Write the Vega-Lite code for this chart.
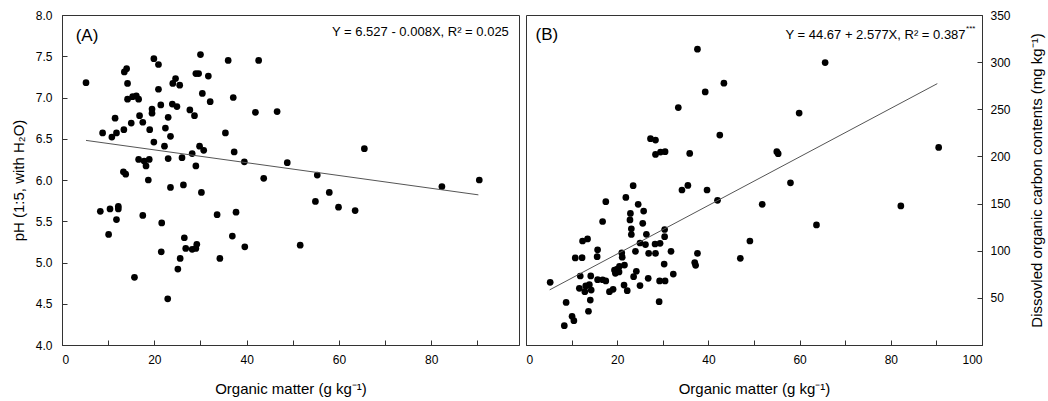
{
  "$schema": "https://vega.github.io/schema/vega-lite/v6.json",
  "padding": {"left": 10, "top": 8, "right": 2, "bottom": 2},
  "bounds": "flush",
  "spacing": 7,
  "config": {
    "font": "Liberation Sans",
    "view": {"stroke": "#333", "strokeWidth": 1},
    "axis": {"grid": false, "domainColor": "#333", "tickColor": "#333", "tickSize": -5, "labelFontSize": 12, "labelColor": "#000", "labelFont": "Liberation Sans", "titleFont": "Liberation Sans", "titleFontSize": 15, "titleFontWeight": "normal", "titleColor": "#000"},
    "axisX": {"labelPadding": 14, "titlePadding": 16},
    "axisY": {"labelPadding": 15, "titlePadding": 9}
  },
  "datasets": {
    "ph": [
      {"om":5.2,"ph":7.18},{"om":13.5,"ph":7.31},{"om":14.0,"ph":7.35},{"om":14.2,"ph":7.17},{"om":19.9,"ph":7.47},{"om":20.9,"ph":7.40},{"om":30.0,"ph":7.52},{"om":36.0,"ph":7.45},{"om":42.6,"ph":7.45},{"om":24.6,"ph":7.23},{"om":24.0,"ph":7.17},{"om":25.5,"ph":7.15},{"om":29.0,"ph":7.29},{"om":29.6,"ph":7.29},{"om":31.7,"ph":7.26},{"om":20.9,"ph":7.10},{"om":14.2,"ph":6.98},{"om":15.3,"ph":7.01},{"om":16.1,"ph":7.02},{"om":16.6,"ph":6.98},{"om":30.4,"ph":7.05},{"om":37.1,"ph":7.00},{"om":32.1,"ph":6.95},{"om":21.4,"ph":6.91},{"om":23.9,"ph":6.92},{"om":24.9,"ph":6.89},{"om":19.5,"ph":6.86},{"om":19.5,"ph":6.81},{"om":27.7,"ph":6.85},{"om":28.7,"ph":6.78},{"om":41.9,"ph":6.82},{"om":46.6,"ph":6.83},{"om":11.5,"ph":6.75},{"om":16.8,"ph":6.78},{"om":15.0,"ph":6.69},{"om":17.5,"ph":6.70},{"om":23.0,"ph":6.76},{"om":8.8,"ph":6.57},{"om":10.8,"ph":6.52},{"om":11.8,"ph":6.57},{"om":13.4,"ph":6.61},{"om":19.0,"ph":6.61},{"om":22.4,"ph":6.63},{"om":23.5,"ph":6.53},{"om":35.4,"ph":6.57},{"om":19.9,"ph":6.46},{"om":22.2,"ph":6.41},{"om":29.8,"ph":6.41},{"om":30.7,"ph":6.36},{"om":37.3,"ph":6.34},{"om":65.5,"ph":6.38},{"om":16.6,"ph":6.25},{"om":17.8,"ph":6.23},{"om":18.9,"ph":6.25},{"om":18.2,"ph":6.17},{"om":23.0,"ph":6.26},{"om":26.0,"ph":6.27},{"om":28.2,"ph":6.32},{"om":29.0,"ph":6.17},{"om":39.5,"ph":6.22},{"om":48.8,"ph":6.21},{"om":13.3,"ph":6.10},{"om":13.8,"ph":6.07},{"om":18.7,"ph":6.00},{"om":43.7,"ph":6.02},{"om":55.3,"ph":6.06},{"om":82.3,"ph":5.92},{"om":90.4,"ph":6.00},{"om":23.5,"ph":5.91},{"om":26.3,"ph":5.94},{"om":30.2,"ph":5.85},{"om":57.9,"ph":5.85},
      {"om":8.3,"ph":5.62},{"om":10.4,"ph":5.65},{"om":12.2,"ph":5.68},{"om":12.2,"ph":5.65},{"om":11.8,"ph":5.52},{"om":10.1,"ph":5.34},{"om":17.5,"ph":5.57},{"om":21.6,"ph":5.48},{"om":21.5,"ph":5.13},{"om":15.7,"ph":4.82},{"om":22.9,"ph":4.56},{"om":25.1,"ph":4.92},{"om":25.6,"ph":5.05},{"om":26.5,"ph":5.30},{"om":26.8,"ph":5.17},{"om":28.2,"ph":5.16},{"om":29.0,"ph":5.17},{"om":29.2,"ph":5.22},{"om":33.6,"ph":5.58},{"om":34.2,"ph":5.05},{"om":36.9,"ph":5.32},{"om":37.7,"ph":5.61},{"om":39.6,"ph":5.19},{"om":51.6,"ph":5.21},{"om":54.9,"ph":5.74},{"om":59.9,"ph":5.67},{"om":63.5,"ph":5.63}
    ],
    "doc": [
      {"om":37.6,"doc":313.8},{"om":65.6,"doc":299.5},{"om":43.4,"doc":277.7},{"om":39.3,"doc":268.4},{"om":33.4,"doc":251.8},{"om":59.9,"doc":246.0},{"om":27.3,"doc":218.8},{"om":28.4,"doc":217.3},{"om":42.5,"doc":222.7},{"om":90.5,"doc":209.5},{"om":28.4,"doc":202.1},{"om":29.5,"doc":204.6},{"om":30.5,"doc":205.0},{"om":35.9,"doc":203.2},{"om":55.0,"doc":205.0},{"om":55.3,"doc":202.9},{"om":58.0,"doc":172.0},{"om":23.5,"doc":169.0},{"om":34.2,"doc":164.4},{"om":35.5,"doc":169.2},{"om":39.7,"doc":164.4},{"om":42.0,"doc":153.5},{"om":21.9,"doc":156.5},{"om":17.5,"doc":152.0},{"om":24.6,"doc":149.2},{"om":51.8,"doc":149.2},{"om":82.2,"doc":147.5},{"om":22.9,"doc":139.6},{"om":25.8,"doc":142.0},{"om":16.8,"doc":131.0},{"om":22.8,"doc":132.6},{"om":25.6,"doc":129.0},{"om":63.7,"doc":127.3},{"om":23.1,"doc":123.2},{"om":23.1,"doc":117.2},{"om":26.4,"doc":117.4},{"om":30.4,"doc":122.5},{"om":30.4,"doc":114.9},{"om":12.4,"doc":110.3},{"om":13.5,"doc":112.5},{"om":49.1,"doc":110.3},{"om":25.0,"doc":108.2},{"om":26.2,"doc":106.5},{"om":28.3,"doc":107.1},{"om":29.4,"doc":107.8},{"om":21.0,"doc":97.6},{"om":21.1,"doc":93.2},{"om":24.0,"doc":99.4},{"om":26.9,"doc":97.2},{"om":28.4,"doc":97.2},{"om":31.8,"doc":99.4},{"om":37.6,"doc":97.2},{"om":10.8,"doc":92.4},{"om":12.3,"doc":92.6},{"om":15.6,"doc":93.7},{"om":15.7,"doc":101.0},{"om":47.0,"doc":91.9},{"om":37.0,"doc":87.5},{"om":37.2,"doc":84.5},{"om":30.3,"doc":85.8},{"om":21.6,"doc":84.8},{"om":19.4,"doc":79.5},{"om":20.0,"doc":80.5},{"om":20.4,"doc":77.5},{"om":19.6,"doc":76.0},{"om":20.5,"doc":83.5},{"om":24.2,"doc":78.2},{"om":23.6,"doc":72.5},{"om":11.9,"doc":73.2},{"om":14.2,"doc":73.3},{"om":26.8,"doc":70.7},{"om":32.3,"doc":75.2},{"om":5.3,"doc":66.5},{"om":15.7,"doc":69.3},{"om":16.8,"doc":69.2},{"om":17.5,"doc":68.0},{"om":29.3,"doc":68.0},{"om":30.5,"doc":68.0},{"om":11.7,"doc":60.1},{"om":13.1,"doc":62.6},{"om":13.9,"doc":64.0},{"om":14.3,"doc":58.3},{"om":12.9,"doc":56.6},{"om":18.3,"doc":56.6},{"om":19.1,"doc":59.0},{"om":21.5,"doc":63.6},{"om":22.2,"doc":57.6},{"om":25.0,"doc":63.0},{"om":14.1,"doc":47.7},{"om":8.8,"doc":45.2},{"om":29.2,"doc":46.0},{"om":13.7,"doc":35.8},{"om":10.1,"doc":30.5},{"om":10.5,"doc":25.8},{"om":8.4,"doc":20.5}
    ],
    "lineA": [{"om":5.2,"ph":6.48},{"om":90.2,"ph":5.82}],
    "lineB": [{"om":5.2,"doc":58.5},{"om":90.2,"doc":277.2}]
  },
  "hconcat": [
    {
      "width": 457,
      "height": 330,
      "layer": [
        {
          "data": {"name": "ph"},
          "mark": {"type": "circle", "size": 45, "color": "#000", "opacity": 1},
          "encoding": {
            "x": {"field": "om", "type": "quantitative", "scale": {"domain": [0, 99], "nice": false, "zero": false},
                  "axis": {"title": "Organic matter (g kg⁻¹)", "values": [0,10,20,30,40,50,60,70,80,90], "labelExpr": "datum.value % 20 === 0 ? datum.label : ''"}},
            "y": {"field": "ph", "type": "quantitative", "scale": {"domain": [4, 8], "nice": false, "zero": false},
                  "axis": {"title": "pH (1:5, with H₂O)", "values": [4,4.5,5,5.5,6,6.5,7,7.5,8], "format": ".1f"}}
          }
        },
        {
          "data": {"name": "lineA"},
          "mark": {"type": "line", "color": "#555", "strokeWidth": 1},
          "encoding": {"x": {"field": "om", "type": "quantitative"}, "y": {"field": "ph", "type": "quantitative"}}
        },
        {
          "data": {"values": [{}]},
          "mark": {"type": "text", "align": "left", "baseline": "middle", "fontSize": 17, "font": "Liberation Sans", "color": "#000"},
          "encoding": {"x": {"datum": 2.97, "type": "quantitative"}, "y": {"datum": 7.75, "type": "quantitative"}, "text": {"value": "(A)"}}
        },
        {
          "data": {"values": [{}]},
          "mark": {"type": "text", "align": "right", "baseline": "middle", "fontSize": 13, "font": "Liberation Sans", "color": "#000"},
          "encoding": {"x": {"datum": 96.8, "type": "quantitative"}, "y": {"datum": 7.8, "type": "quantitative"}, "text": {"value": "Y = 6.527 - 0.008X, R² = 0.025"}}
        }
      ]
    },
    {
      "width": 456,
      "height": 330,
      "layer": [
        {
          "data": {"name": "doc"},
          "mark": {"type": "circle", "size": 45, "color": "#000", "opacity": 1},
          "encoding": {
            "x": {"field": "om", "type": "quantitative", "scale": {"domain": [0, 100], "nice": false, "zero": false},
                  "axis": {"title": "Organic matter (g kg⁻¹)", "values": [0,10,20,30,40,50,60,70,80,90,100], "labelExpr": "datum.value % 20 === 0 ? datum.label : ''"}},
            "y": {"field": "doc", "type": "quantitative", "scale": {"domain": [0, 350], "nice": false},
                  "axis": {"orient": "right", "title": "Dissovled organic carbon contents (mg kg⁻¹)", "titleAngle": 270, "values": [0,50,100,150,200,250,300,350], "labelExpr": "datum.value === 0 ? '' : datum.label", "labelPadding": 13, "titlePadding": 34}}
          }
        },
        {
          "data": {"name": "lineB"},
          "mark": {"type": "line", "color": "#555", "strokeWidth": 1},
          "encoding": {"x": {"field": "om", "type": "quantitative"}, "y": {"field": "doc", "type": "quantitative"}}
        },
        {
          "data": {"values": [{}]},
          "mark": {"type": "text", "align": "left", "baseline": "middle", "fontSize": 17, "font": "Liberation Sans", "color": "#000"},
          "encoding": {"x": {"datum": 2.1, "type": "quantitative"}, "y": {"datum": 329, "type": "quantitative"}, "text": {"value": "(B)"}}
        },
        {
          "data": {"values": [{}]},
          "mark": {"type": "text", "align": "right", "baseline": "middle", "fontSize": 13, "font": "Liberation Sans", "color": "#000"},
          "encoding": {"x": {"datum": 96.4, "type": "quantitative"}, "y": {"datum": 329, "type": "quantitative"}, "text": {"value": "Y = 44.67 + 2.577X, R² = 0.387"}}
        },
        {
          "data": {"values": [{}]},
          "mark": {"type": "text", "align": "left", "baseline": "middle", "fontSize": 8, "font": "Liberation Sans", "color": "#000"},
          "encoding": {"x": {"datum": 96.5, "type": "quantitative"}, "y": {"datum": 335, "type": "quantitative"}, "text": {"value": "***"}}
        }
      ]
    }
  ]
}
